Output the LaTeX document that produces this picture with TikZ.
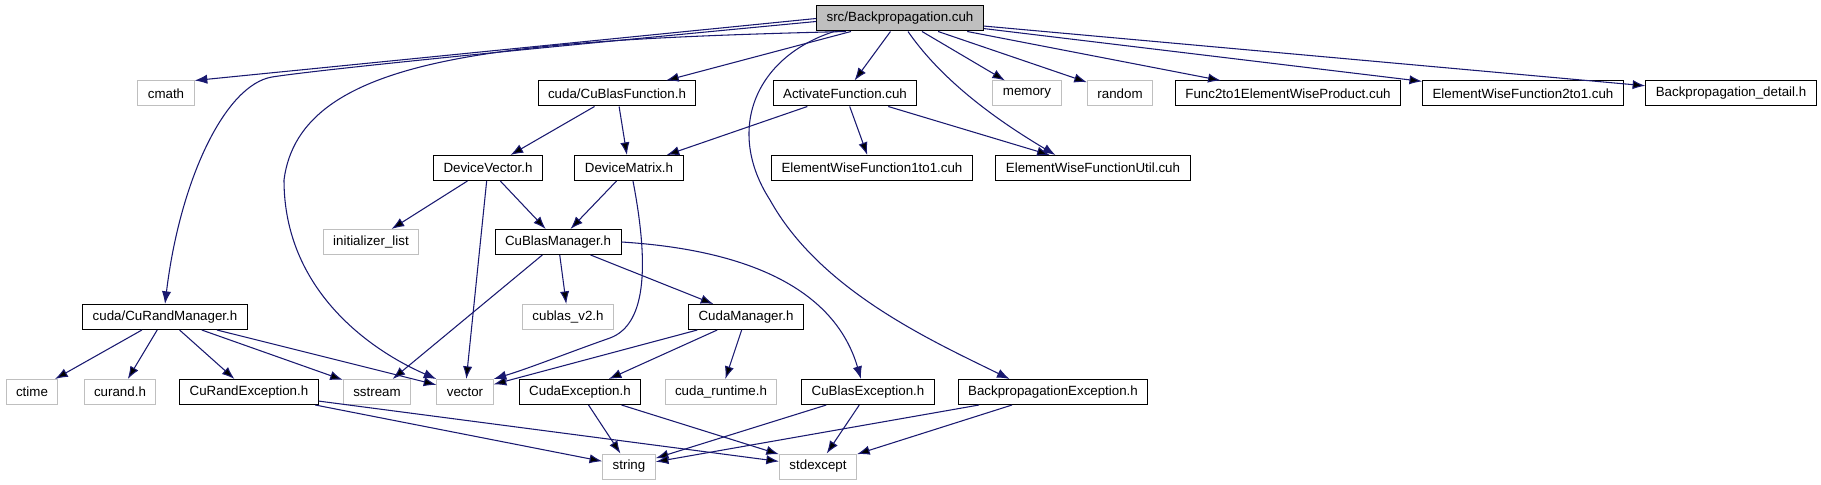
\documentclass[tikz,border=0pt]{standalone}
\usepackage{fontspec}
\setmainfont{Liberation Sans}
\usetikzlibrary{arrows.meta,calc}
\definecolor{sysgray}{HTML}{BFBFBF}
\definecolor{depblue}{HTML}{191970}

\begin{document}
\begin{tikzpicture}[x=0.75pt, y=-0.75pt, font=\fontsize{10}{12}\selectfont,
    file/.style = {draw=black, line width=0.75pt, inner xsep=7.5pt, inner ysep=0pt, minimum height=18.75pt},
    sys/.style = {file, draw=sysgray},
    top/.style = {file, fill=sysgray},
    dep/.style = {draw=depblue, line width=0.8pt, -{Latex[length=9.5pt,width=7pt]}}]
    \useasboundingbox (0,0) rectangle (1821,485);

    \node[top] (src) at (900,18.5) {src/Backpropagation.cuh};

    \node[sys] (cmath) at (166,93.5) {cmath};
    \node[file] (cbfunc) at (617,93.5) {cuda/CuBlasFunction.h};
    \node[file] (actfunc) at (845,93.5) {ActivateFunction.cuh};
    \node[sys] (memory) at (1027,93.5) {memory};
    \node[sys] (random) at (1120,93.5) {random};
    \node[file] (f2to1prod) at (1288,93.5) {Func2to1ElementWiseProduct.cuh};
    \node[file] (ew2to1) at (1523,93.5) {ElementWiseFunction2to1.cuh};
    \node[file] (bpdetail) at (1731,93.5) {Backpropagation\_detail.h};

    \node[file] (dvector) at (488,168) {DeviceVector.h};
    \node[file] (dmatrix) at (629,168) {DeviceMatrix.h};
    \node[file] (ew1to1) at (872,168) {ElementWiseFunction1to1.cuh};
    \node[file] (ewutil) at (1093,168) {ElementWiseFunctionUtil.cuh};

    \node[sys] (initlist) at (371,242) {initializer\_list};
    \node[file] (cbmgr) at (558,242) {CuBlasManager.h};

    \node[file] (crmgr) at (165,317) {cuda/CuRandManager.h};
    \node[sys] (cublas) at (568,317) {cublas\_v2.h};
    \node[file] (cudamgr) at (746,317) {CudaManager.h};

    \node[sys] (ctime) at (32,392) {ctime};
    \node[sys] (curand) at (120,392) {curand.h};
    \node[file] (crexc) at (249,392) {CuRandException.h};
    \node[sys] (sstream) at (377,392) {sstream};
    \node[sys] (vector) at (465,392) {vector};
    \node[file] (cudaexc) at (580,392) {CudaException.h};
    \node[sys] (cudart) at (721,392) {cuda\_runtime.h};
    \node[file] (cbexc) at (868,392) {CuBlasException.h};
    \node[file] (bpexc) at (1053,392) {BackpropagationException.h};

    \node[sys] (string) at (629,466.5) {string};
    \node[sys] (stdexcept) at (818,466.5) {stdexcept};

    % includes of the top file
    \draw[dep] (src.west) -- (cmath.north east);
    \path[dep] (src) edge (cbfunc) edge (actfunc) edge (memory) edge (random)
        edge (f2to1prod) edge (ew2to1) edge (bpdetail);
    \draw[dep] ($(src.west)+(0,3)$) .. controls (600,42) and (330,68) .. (272,77)
        .. controls (225,85) and (180,180) .. (crmgr.north);
    \draw[dep] ($(src.south west)+(30,0)$) .. controls (500,40) and (300,55) .. (284,180)
        .. controls (284,290) and (370,350) .. (vector.north west);
    \draw[dep] ($(src.south west)+(18,0)$) .. controls (755,57) and (725,130) .. (770,200)
        .. controls (820,290) and (930,340) .. ($(bpexc.north west)+(52,0)$);
    \draw[dep] ($(src.south)+(8,0)$) .. controls (945,85) and (1005,125) .. ($(ewutil.north west)+(60,0)$);

    \path[dep] (cbfunc) edge (dvector) edge (dmatrix);
    \path[dep] (actfunc) edge (dmatrix) edge (ew1to1) edge (ewutil);
    \path[dep] (dvector) edge (initlist) edge (cbmgr) edge (vector);
    \path[dep] (dmatrix) edge (cbmgr);
    \draw[dep] ($(dmatrix.south)+(4,0)$) .. controls (650,270) and (645,325) .. (610,338)
        .. controls (570,352) and (530,368) .. (vector.north east);
    \path[dep] (cbmgr) edge (sstream) edge (cublas) edge (cudamgr);
    \draw[dep] (cbmgr.east) .. controls (750,250) and (835,290) .. ($(cbexc.north)+(-7,0)$);
    \path[dep] (cudamgr) edge (vector) edge (cudaexc) edge (cudart);
    \path[dep] (crmgr) edge (ctime) edge (curand) edge (crexc) edge (sstream) edge (vector);

    % exceptions
    \path[dep] (crexc) edge (string) edge (stdexcept);
    \path[dep] (cudaexc) edge (string) edge (stdexcept);
    \path[dep] (cbexc) edge (string) edge (stdexcept);
    \path[dep] (bpexc) edge (string) edge (stdexcept);
\end{tikzpicture}
\end{document}
